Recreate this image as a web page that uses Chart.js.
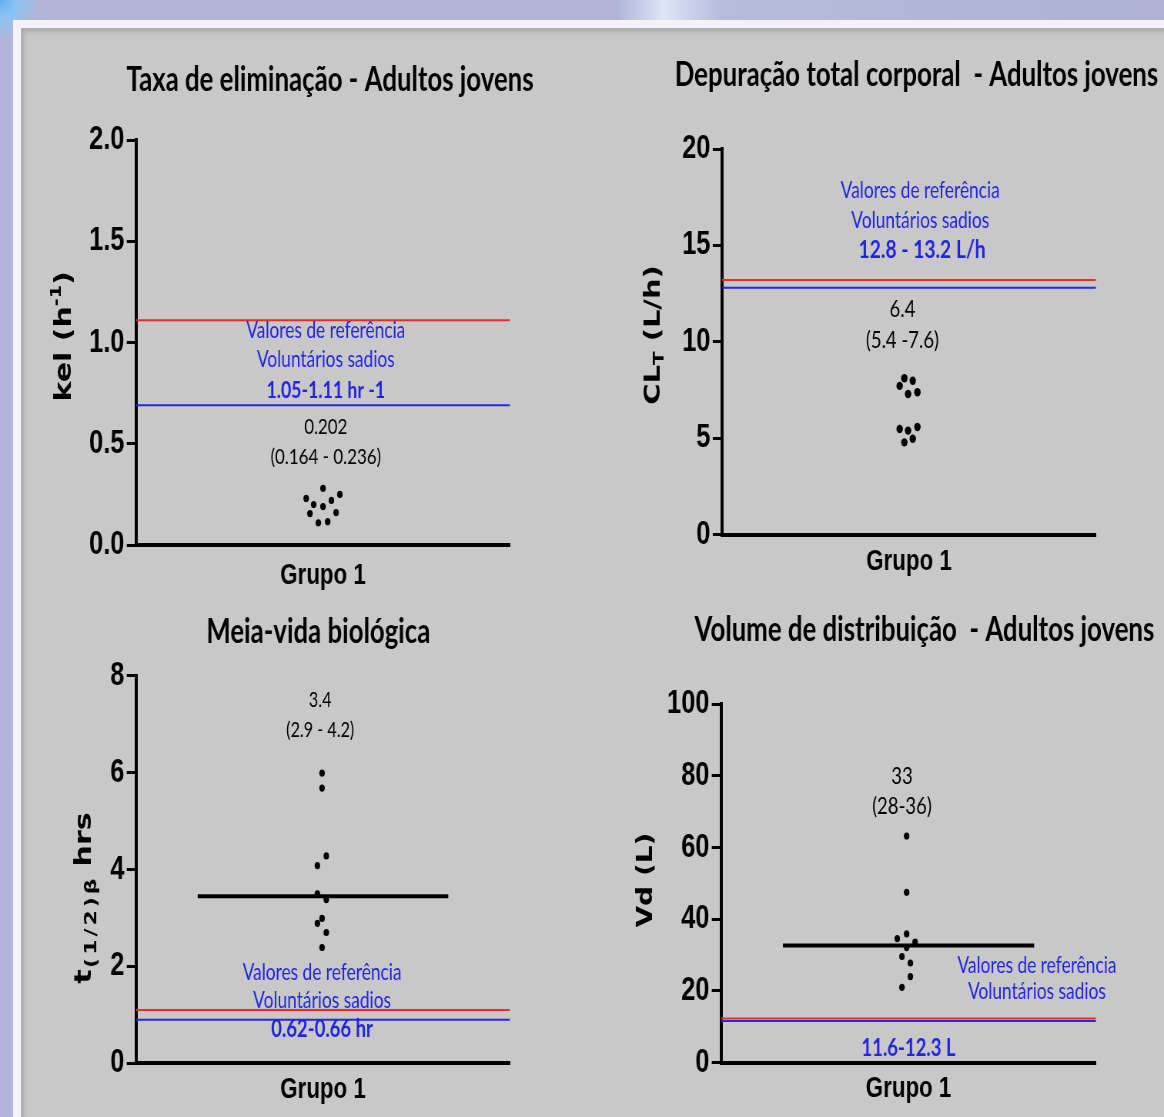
<!DOCTYPE html>
<html lang="pt">
<head>
<meta charset="utf-8">
<title>Parâmetros farmacocinéticos - Adultos jovens</title>
<script src="https://cdn.jsdelivr.net/npm/chart.js@4.4.1/dist/chart.umd.min.js"></script>
<style>
  html, body { margin: 0; width: 1164px; height: 1117px; overflow: hidden; }
  body {
    position: relative;
    background: linear-gradient(90deg, #b3b6d8 0%, #b1b4d6 53%, #dce5f8 57%, #b7bbdb 62%, #aeb1d4 100%);
  }
  .corner {
    position: absolute; left: 0; top: 0; width: 60px; height: 40px;
    background: radial-gradient(circle at 0 0, #5fb0f2 0, #8cc3f2 18px, rgba(178,182,214,0) 40px);
  }
  .frame { position: absolute; left: 13px; top: 20px; width: 1200px; height: 1150px; background: #f3f3f7; }
  .panel {
    position: absolute; left: 21px; top: 28px; width: 1200px; height: 1150px; background: #c8c8c8;
    box-shadow: inset 3px 4px 4px rgba(0, 0, 0, 0.14);
  }
  canvas { position: absolute; }
</style>
</head>
<body>
<div class="corner"></div>
<div class="frame"></div>
<div class="panel"></div>
<canvas id="kel"></canvas>
<canvas id="cl"></canvas>
<canvas id="halfLife"></canvas>
<canvas id="vd"></canvas>
<script>
// Grupo 1 (jitter = deslocamento horizontal do ponto)
const kelValues = [0.28, 0.23, 0.25, 0.20, 0.19, 0.22, 0.16, 0.155, 0.11, 0.115]
const kelJitter = [0, -1.8, 1.8, -1.0, 0, 0.9, 1.4, -1.4, -0.5, 0.5]
const kelRefLines = [1.11, 0.69]
const kelTicks = [0, 0.5, 1.0, 1.5, 2.0]

const clValues = [8.11, 7.98, 7.71, 7.29, 7.38, 5.47, 5.39, 5.58, 4.97, 4.78]
const clJitter = [-0.5, 0.4, -1.0, -0.1, 0.9, -1.0, -0.1, 0.9, 0.4, -0.5]
const clRefLines = [13.2, 12.8]
const clTicks = [0, 5, 10, 15, 20]

const halfLifeValues = [5.99, 5.68, 4.28, 4.08, 3.50, 3.38, 2.99, 2.89, 2.70, 2.39]
const halfLifeJitter = [-0.1, -0.1, 0.35, -0.6, -0.6, 0.35, -0.1, -0.6, 0.35, -0.1]
const halfLifeMedian = 3.45
const halfLifeRefLines = [1.10, 0.90]
const halfLifeTicks = [0, 2, 4, 6, 8]

const vdValues = [63.2, 47.5, 35.9, 34.6, 33.6, 32.1, 29.6, 27.8, 24.0, 21.0]
const vdJitter = [-0.2, -0.2, -0.2, -1.2, 0.7, -0.2, -0.7, 0.2, 0.2, -0.7]
const vdMedian = 32.7
const vdRefLines = [12.3, 11.6]
const vdTicks = [0, 20, 40, 60, 80, 100]

const MEDIAN_SPAN = [-13.4, 13.4]
const REF_COLORS = ['#f02828', '#2626e6']
const BLUE = '#2323e6'
const SQUEEZE = 0.77   // the slide is stretched narrower than it is tall
const AXIS_W = 70
const ARIAL = "'Liberation Sans', Arial, sans-serif"
const HEAVY = "'DejaVu Sans', Verdana, sans-serif"
const CALIBRI = "Lato, 'Liberation Sans', sans-serif"

const panelText = {
  id: 'panelText',
  afterDraw(chart, args, opts) {
    const { ctx, scales: { x, y }, chartArea } = chart
    ctx.save()
    ctx.textAlign = 'center'
    ctx.textBaseline = 'middle'
    for (const t of opts.items) {
      ctx.font = `${t.bold ? 'bold ' : ''}${t.size}px ${CALIBRI}`
      ctx.fillStyle = t.color || '#000'
      ctx.fillText(t.text, x.getPixelForValue(t.x), y.getPixelForValue(t.y))
    }
    // rotated y axis title with sub/superscripts
    const yt = opts.yTitle
    const widths = yt.parts.map(p => {
      ctx.font = `bold ${p.size}px ${HEAVY}`
      return ctx.measureText(p.text).width + (p.spacing || 0) * p.text.length
    })
    const total = widths.reduce((a, b) => a + b, 0)
    ctx.translate(chartArea.left - yt.offset, y.getPixelForValue(yt.mid))
    ctx.rotate(-Math.PI / 2)
    ctx.textAlign = 'left'
    ctx.fillStyle = '#000'
    let cx = -total / 2
    yt.parts.forEach((p, i) => {
      ctx.font = `bold ${p.size}px ${HEAVY}`
      if (p.spacing) {
        for (const ch of p.text) {
          ctx.fillText(ch, cx + p.spacing / 2, p.dy || 0)
          cx += ctx.measureText(ch).width + p.spacing
        }
      } else {
        ctx.fillText(p.text, cx, p.dy || 0)
        cx += widths[i]
      }
    })
    ctx.restore()
  }
}

function hline(value, color, width, span) {
  return {
    type: 'scatter', showLine: true,
    data: [{ x: span[0], y: value }, { x: span[1], y: value }],
    borderColor: color, borderWidth: width, pointRadius: 0
  }
}

function buildPanel(id, g, p) {
  const W = Math.round(g.w / SQUEEZE)
  const sx = g.w / W
  const canvas = document.getElementById(id)
  canvas.width = W
  canvas.height = g.h
  Object.assign(canvas.style, { left: g.x + 'px', top: g.y + 'px', width: g.w + 'px', height: g.h + 'px' })

  const datasets = [{
    data: p.values.map((v, i) => ({ x: p.jitter[i], y: v })),
    backgroundColor: '#000', borderColor: '#000', borderWidth: 0,
    pointRadius: p.dot || 3.6
  }]
  if (p.median != null) datasets.push(hline(p.median, '#000', 4, MEDIAN_SPAN))
  p.refLines.forEach((v, i) => datasets.push(hline(v, REF_COLORS[i], 2, [-20, 20])))

  return new Chart(canvas, {
    type: 'scatter',
    data: { datasets },
    options: {
      responsive: false,
      animation: false,
      layout: {
        padding: {
          left: (g.l - g.x) / sx - AXIS_W,
          right: W - (g.r - g.x) / sx,
          top: g.t - g.y,
          bottom: g.y + g.h - g.b - g.xh
        }
      },
      plugins: {
        legend: { display: false },
        tooltip: { enabled: false },
        panelText: { items: p.texts, yTitle: p.yTitle }
      },
      scales: {
        x: {
          type: 'linear', min: -20, max: 20,
          ticks: { display: false },
          grid: { display: false },
          border: { display: true, color: '#000', width: 4 },
          title: {
            display: true, text: 'Grupo 1', color: '#000', padding: 0,
            font: { family: ARIAL, size: 29, weight: 'bold' }
          },
          afterFit: s => { s.height = g.xh }
        },
        y: {
          min: p.ticks[0], max: p.ticks[p.ticks.length - 1],
          afterBuildTicks: s => { s.ticks = p.ticks.map(value => ({ value })) },
          ticks: {
            color: '#000', padding: 3,
            font: { family: ARIAL, size: 33, weight: 'bold' },
            callback: v => p.decimals ? v.toFixed(p.decimals) : String(v)
          },
          grid: { drawOnChartArea: false, drawTicks: true, tickLength: 12, tickWidth: 3, tickColor: '#000' },
          border: { color: '#000', width: 4 },
          afterFit: s => { s.width = AXIS_W }
        }
      }
    },
    plugins: [panelText]
  })
}

buildPanel('kel',
  { x: 0, y: 0, w: 585, h: 600, l: 136, r: 510, t: 140, b: 545, xh: 48.8 },
  {
    values: kelValues, jitter: kelJitter, refLines: kelRefLines, ticks: kelTicks, decimals: 1,
    yTitle: { offset: 92, mid: 1.03, parts: [{ text: 'kel (h', size: 30 }, { text: '-1', size: 19, dy: -11 }, { text: ')', size: 30 }] },
    texts: [
      { text: 'Taxa de eliminação - Adultos jovens', x: 0.75, y: 2.296, size: 33.5, bold: true },
      { text: 'Valores de referência', x: 0.3, y: 1.057, size: 22.5, color: BLUE },
      { text: 'Voluntários sadios', x: 0.3, y: 0.914, size: 22.5, color: BLUE },
      { text: '1.05-1.11 hr -1', x: 0.3, y: 0.765, size: 23, bold: true, color: BLUE },
      { text: '0.202', x: 0.3, y: 0.583, size: 22 },
      { text: '(0.164 - 0.236)', x: 0.3, y: 0.435, size: 22 }
    ]
  })

buildPanel('cl',
  { x: 585, y: 0, w: 579, h: 600, l: 722, r: 1096, t: 149, b: 534.5, xh: 45.3 },
  {
    values: clValues, jitter: clJitter, refLines: clRefLines, ticks: clTicks, dot: 4.2,
    yTitle: { offset: 88, mid: 10.35, parts: [{ text: 'CL', size: 29 }, { text: 'T', size: 20, dy: 7 }, { text: ' (L/h)', size: 29 }] },
    texts: [
      { text: 'Depuração total corporal  - Adultos jovens', x: 0.8, y: 23.85, size: 33.5, bold: true },
      { text: 'Valores de referência', x: 1.2, y: 17.83, size: 22.5, color: BLUE },
      { text: 'Voluntários sadios', x: 1.2, y: 16.27, size: 22.5, color: BLUE },
      { text: '12.8 - 13.2 L/h', x: 1.4, y: 14.76, size: 25, bold: true, color: BLUE },
      { text: '6.4', x: -0.7, y: 11.70, size: 24 },
      { text: '(5.4 -7.6)', x: -0.7, y: 10.09, size: 24 }
    ]
  })

buildPanel('halfLife',
  { x: 0, y: 600, w: 585, h: 517, l: 136, r: 510, t: 675.7, b: 1063.3, xh: 44.5 },
  {
    values: halfLifeValues, jitter: halfLifeJitter, median: halfLifeMedian, refLines: halfLifeRefLines, ticks: halfLifeTicks,
    yTitle: { offset: 66, mid: 3.41, parts: [{ text: 't', size: 30 }, { text: '(1/2)β', size: 22, dy: 9, spacing: 3 }, { text: ' hrs', size: 30 }] },
    texts: [
      { text: 'Meia-vida biológica', x: -0.5, y: 8.90, size: 33.5, bold: true },
      { text: '3.4', x: -0.3, y: 7.50, size: 21 },
      { text: '(2.9 - 4.2)', x: -0.3, y: 6.88, size: 21 },
      { text: 'Valores de referência', x: -0.1, y: 1.86, size: 22.5, color: BLUE },
      { text: 'Voluntários sadios', x: -0.1, y: 1.29, size: 22.5, color: BLUE },
      { text: '0.62-0.66 hr', x: -0.1, y: 0.71, size: 24, bold: true, color: BLUE }
    ]
  })

buildPanel('vd',
  { x: 585, y: 600, w: 579, h: 517, l: 721, r: 1096, t: 704, b: 1062.7, xh: 44.1 },
  {
    values: vdValues, jitter: vdJitter, median: vdMedian, refLines: vdRefLines, ticks: vdTicks,
    yTitle: { offset: 97, mid: 50.9, parts: [{ text: 'Vd (L)', size: 28 }] },
    texts: [
      { text: 'Volume de distribuição  - Adultos jovens', x: 1.7, y: 120.6, size: 33.5, bold: true },
      { text: '33', x: -0.7, y: 79.9, size: 24 },
      { text: '(28-36)', x: -0.7, y: 71.6, size: 24 },
      { text: 'Valores de referência', x: 13.7, y: 27.0, size: 22.5, color: BLUE },
      { text: 'Voluntários sadios', x: 13.7, y: 19.7, size: 22.5, color: BLUE },
      { text: '11.6-12.3 L', x: 0, y: 4.1, size: 24, bold: true, color: BLUE }
    ]
  })
</script>
</body>
</html>
